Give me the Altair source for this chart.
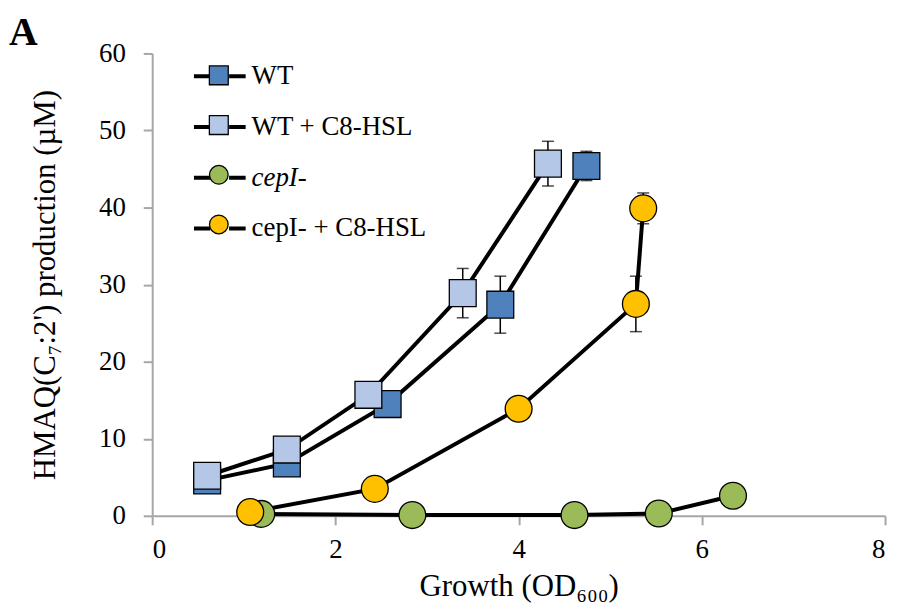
import altair as alt
import pandas as pd

series_names = ["WT", "WT + C8-HSL", "cepI-", "cepI- + C8-HSL"]
fill_colors = ["#4F81BD", "#B4C7E7", "#9BBB59", "#FFC000"]

wt_x = [0.60, 1.47, 2.57, 3.80, 4.74]
wt_y = [4.6, 6.8, 14.5, 27.4, 45.4]
wt_err = [0.3, 0.4, 0.6, 3.7, 1.9]

wtc8_x = [0.60, 1.47, 2.36, 3.39, 4.32]
wtc8_y = [5.2, 8.6, 15.7, 28.9, 45.7]
wtc8_err = [0.3, 0.5, 0.7, 3.2, 2.9]

cep_x = [1.19, 2.84, 4.61, 5.53, 6.34]
cep_y = [0.25, 0.1, 0.1, 0.3, 2.6]
cep_err = [0.05, 0.02, 0.02, 0.1, 0.4]

cepc8_x = [1.07, 2.43, 4.00, 5.28, 5.36]
cepc8_y = [0.5, 3.5, 13.9, 27.5, 39.9]
cepc8_err = [0.1, 0.5, 1.0, 3.6, 2.0]

x_ticks = [0, 2, 4, 6, 8]
y_ticks = [0, 10, 20, 30, 40, 50, 60]

rows = []
idx = 0
for name, xs, ys, es in zip(series_names,
                            [wt_x, wtc8_x, cep_x, cepc8_x],
                            [wt_y, wtc8_y, cep_y, cepc8_y],
                            [wt_err, wtc8_err, cep_err, cepc8_err]):
    for xv, yv, ev in zip(xs, ys, es):
        rows.append({"series": name, "x": xv, "y": yv,
                     "lo": yv - ev, "hi": yv + ev, "idx": idx})
        idx += 1
df = pd.DataFrame(rows)

FONT = "Liberation Serif"
GRAY = "#A6A6A6"
LEG_SIZE = 2704  # 52 px symbol box
sq_path = "M-0.365,-0.365H0.365V0.365H-0.365Z"
k = 0.1988
r = 0.36
circ_path = (f"M{r},0 C{r},{k} {k},{r} 0,{r} C{-k},{r} {-r},{k} {-r},0 "
             f"C{-r},{-k} {-k},{-r} 0,{-r} C{k},{-r} {r},{-k} {r},0 Z")
stub_path = "M-1,0H-0.36M0.36,0H1"

axis_style = dict(grid=False, domainColor=GRAY, domainWidth=2, tickColor=GRAY,
                  tickWidth=2, tickSize=9, labelFont=FONT, labelFontSize=27,
                  labelColor="black", titleFont=FONT, titleFontSize=31,
                  titleFontWeight="normal", titleColor="black", format="d")

xenc = alt.X("x:Q", scale=alt.Scale(domain=[0, 8], nice=False, zero=False),
             axis=alt.Axis(values=x_ticks, title="Growth (OD₆₀₀)",
                           labelPadding=12, titlePadding=9, **axis_style))
yenc = alt.Y("y:Q", scale=alt.Scale(domain=[0, 60], nice=False),
             axis=alt.Axis(values=y_ticks, title="HMAQ(C₇:2') production (µM)",
                           labelPadding=18, titlePadding=37, **axis_style))

base = alt.Chart(df)

legend_common = dict(orient="none", legendX=40, legendY=-5, title=None,
                     padding=0, rowPadding=10, symbolSize=LEG_SIZE,
                     labelFont=FONT, labelFontSize=27, labelColor="black",
                     labelOffset=4, labelLimit=400)

lines = base.mark_line(strokeWidth=4).encode(
    x=xenc, y=yenc,
    stroke=alt.Stroke("series:N",
                      scale=alt.Scale(domain=series_names, range=["black"] * 4),
                      legend=alt.Legend(symbolType=stub_path, symbolStrokeWidth=4,
                                        symbolStrokeColor="black",
                                        labelFontStyle={"expr": "datum.label == 'cepI-' ? 'italic' : 'normal'"},
                                        **legend_common)),
    order="idx:Q",
)

rules = base.mark_rule(color="black", strokeWidth=1.5).encode(
    x="x:Q", y="lo:Q", y2="hi:Q")
cap_lo = base.mark_tick(orient="horizontal", size=12, thickness=1.5,
                        color="black").encode(x="x:Q", y="lo:Q")
cap_hi = base.mark_tick(orient="horizontal", size=12, thickness=1.5,
                        color="black").encode(x="x:Q", y="hi:Q")

points = base.mark_point(filled=True, size=729, stroke="black", strokeWidth=1.3,
                         opacity=1).encode(
    x="x:Q", y="y:Q",
    fill=alt.Fill("series:N", scale=alt.Scale(domain=series_names, range=fill_colors),
                  legend=None),
    shape=alt.Shape("series:N",
                    scale=alt.Scale(domain=series_names,
                                    range=["square", "square", "circle", "circle"]),
                    legend=None),
    order="idx:Q",
)

marker_legend = dict(symbolStrokeColor="black", symbolStrokeWidth=1.3,
                     labelExpr="''", **legend_common)
leg_points = base.transform_filter("false").mark_point(
    filled=True, size=LEG_SIZE, strokeWidth=1.3, opacity=1).encode(
    x="x:Q", y="y:Q",
    fill=alt.Fill("series:N", scale=alt.Scale(domain=series_names, range=fill_colors),
                  legend=alt.Legend(**marker_legend)),
    stroke=alt.Stroke("series:N", scale=alt.Scale(domain=series_names, range=["black"] * 4),
                      legend=alt.Legend(**marker_legend)),
    shape=alt.Shape("series:N",
                    scale=alt.Scale(domain=series_names,
                                    range=[sq_path, sq_path, circ_path, circ_path]),
                    legend=alt.Legend(**marker_legend)),
)

panel_label = alt.Chart(pd.DataFrame({"t": ["A"]})).mark_text(
    font=FONT, fontSize=40, fontWeight="bold", align="left",
    baseline="alphabetic", color="black").encode(
    x=alt.value(-144), y=alt.value(-9), text="t:N")

chart = alt.layer(lines, rules, cap_lo, cap_hi, points, leg_points, panel_label).resolve_scale(
    fill="independent", shape="independent", stroke="independent"
).properties(
    width=737, height=465,
    padding={"left": 145, "top": 44, "right": 8, "bottom": 95},
    autosize="none",
).configure(font=FONT).configure_axis(
    labelFont=FONT, titleFont=FONT
).configure_view(strokeWidth=0)

chart.save("out.html", embed_options={"renderer": "svg", "actions": False})
